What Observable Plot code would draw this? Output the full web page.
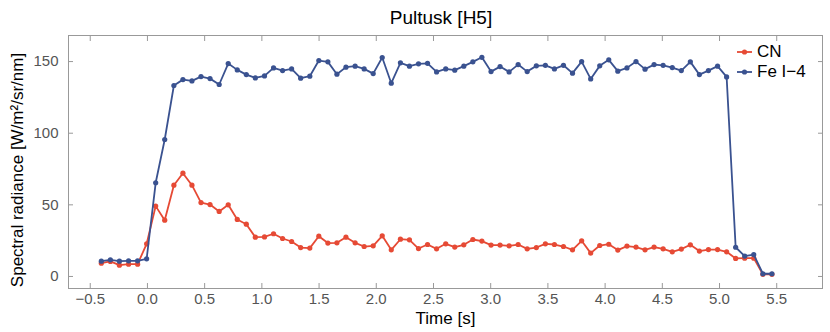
<!DOCTYPE html>
<html>
<head>
<meta charset="utf-8">
<script src="https://cdn.jsdelivr.net/npm/d3@7"></script>
<script src="https://cdn.jsdelivr.net/npm/@observablehq/plot@0.6"></script>
<style>
  body { margin: 0; background: #fff; font-family: "Liberation Sans", Arial, sans-serif; }
  #wrap { width: 830px; height: 332px; position: relative; overflow: hidden; }
  #title { position: absolute; left: 0; top: 8px; width: 882px; text-align: center;
           font-size: 19px; line-height: 19px; color: #000; }
  #chart { position: absolute; left: 0; top: 30px; }
  #legend { position: absolute; left: 736px; top: 42px; font-size: 17px; color: #000; }
  .row { height: 20px; line-height: 20px; display: flex; align-items: center; white-space: nowrap; }
  .row svg { margin-right: 4px; }
</style>
</head>
<body>
<div id="wrap">
  <div id="title">Pultusk [H5]</div>
  <div id="chart"></div>
  <div id="legend"></div>
</div>
<script>
const seriesNames = ["CN", "Fe I\u22124"];
const seriesColors = ["#e64a35", "#3a5290"];
const times = [-0.403,-0.324,-0.245,-0.165,-0.086,-0.007,0.072,0.151,0.231,0.310,
  0.389,0.468,0.547,0.627,0.706,0.785,0.864,0.943,1.023,1.102,
  1.181,1.260,1.339,1.419,1.498,1.577,1.656,1.735,1.815,1.894,
  1.973,2.052,2.131,2.211,2.290,2.369,2.448,2.527,2.607,2.686,
  2.765,2.844,2.923,3.003,3.082,3.161,3.240,3.319,3.399,3.478,
  3.557,3.636,3.715,3.795,3.874,3.953,4.032,4.111,4.191,4.270,
  4.349,4.428,4.507,4.587,4.666,4.745,4.824,4.903,4.983,5.062,
  5.141,5.220,5.299,5.379,5.458];
const cn = [9.3,10.5,7.9,8.6,8.6,22.8,49.1,39.3,63.7,72.1,
  63.7,51.6,50.2,45.4,50.0,39.8,36.5,27.4,27.6,29.8,
  26.5,24.4,20.2,19.8,28.1,23.3,23.5,27.4,23.5,20.9,
  21.4,28.4,18.6,26.0,25.6,19.5,22.3,19.3,22.8,20.5,
  22.1,25.8,24.7,21.9,21.9,21.4,22.3,19.3,20.2,22.8,
  22.3,20.9,18.6,24.9,16.3,21.6,22.5,18.4,21.2,20.5,
  18.6,20.5,19.3,17.2,19.1,22.1,17.7,18.8,18.8,17.2,
  12.6,12.8,12.8,1.5,1.5];
const fe = [10.7,11.6,10.7,10.9,10.9,12.3,65.4,95.6,133.3,137.4,
  136.5,139.5,138.1,134.0,148.6,144.2,140.9,138.6,140.0,145.6,
  143.7,144.9,138.4,139.8,150.7,149.8,141.2,146.1,146.8,144.9,
  141.6,152.8,134.9,149.1,146.8,148.4,148.8,142.8,144.9,144.0,
  146.8,149.8,153.0,143.0,146.5,142.8,147.9,143.0,147.0,147.4,
  144.9,147.4,141.9,150.0,137.9,147.0,151.2,143.3,145.6,150.0,
  144.7,147.9,147.4,145.8,143.7,149.8,140.9,143.7,146.8,139.3,
  20.4,14.2,15.3,1.9,1.9];
const xTicks = [-0.5,0,0.5,1,1.5,2,2.5,3,3.5,4,4.5,5,5.5];
const yTicks = [0,50,100,150];
const xLabel = "Time [s]";
const yLabel = "Spectral radiance [W/m\u00b2/sr/nm]";

const table = times.map((t, i) => ({t, cn: cn[i], fe: fe[i]}));
const frameColor = "#999";
const tickText = "#555";

const chart = Plot.plot({
  width: 830,
  height: 302,
  marginTop: 5,
  marginBottom: 44,
  marginLeft: 68,
  marginRight: 8,
  style: {fontFamily: "'Liberation Sans', Arial, sans-serif", background: "#fff"},
  x: {domain: [-0.69, 5.9]},
  y: {domain: [-8.4, 168.2]},
  marks: [
    Plot.frame({stroke: frameColor}),
    Plot.axisX({anchor: "bottom", ticks: xTicks, tickSize: -5, tickPadding: 10,
      tickFormat: d3.format(".1f"), fontSize: 15, color: tickText, stroke: frameColor, label: null}),
    Plot.axisX({anchor: "top", ticks: xTicks, tickSize: -5, text: null, stroke: frameColor, label: null}),
    Plot.axisY({anchor: "left", ticks: yTicks, tickSize: -5, tickPadding: 15,
      tickFormat: d3.format("d"), fontSize: 15, color: tickText, stroke: frameColor, label: null}),
    Plot.axisY({anchor: "right", ticks: yTicks, tickSize: -5, text: null, stroke: frameColor, label: null}),
    Plot.text([xLabel], {frameAnchor: "bottom", dy: 30, fontSize: 17, fill: "#000", lineAnchor: "middle", textAnchor: "middle"}),
    Plot.text([yLabel], {frameAnchor: "left", dx: -51, dy: 8, rotate: -90, fontSize: 17, fill: "#000", lineAnchor: "middle", textAnchor: "middle"}),
    Plot.line(table, {x: "t", y: "cn", stroke: seriesColors[0], strokeWidth: 1.8}),
    Plot.dot(table, {x: "t", y: "cn", r: 2.6, fill: seriesColors[0], stroke: "none"}),
    Plot.line(table, {x: "t", y: "fe", stroke: seriesColors[1], strokeWidth: 1.8}),
    Plot.dot(table, {x: "t", y: "fe", r: 2.6, fill: seriesColors[1], stroke: "none"})
  ]
});
document.getElementById("chart").appendChild(chart);

const legend = document.getElementById("legend");
seriesNames.forEach((name, i) => {
  const row = document.createElement("div");
  row.className = "row";
  row.innerHTML = `<svg width="17" height="10"><line x1="1" y1="5" x2="16" y2="5" stroke="${seriesColors[i]}" stroke-width="1.8"/><circle cx="8.5" cy="5" r="2.6" fill="${seriesColors[i]}"/></svg><span>${name}</span>`;
  legend.appendChild(row);
});
</script>
</body>
</html>
